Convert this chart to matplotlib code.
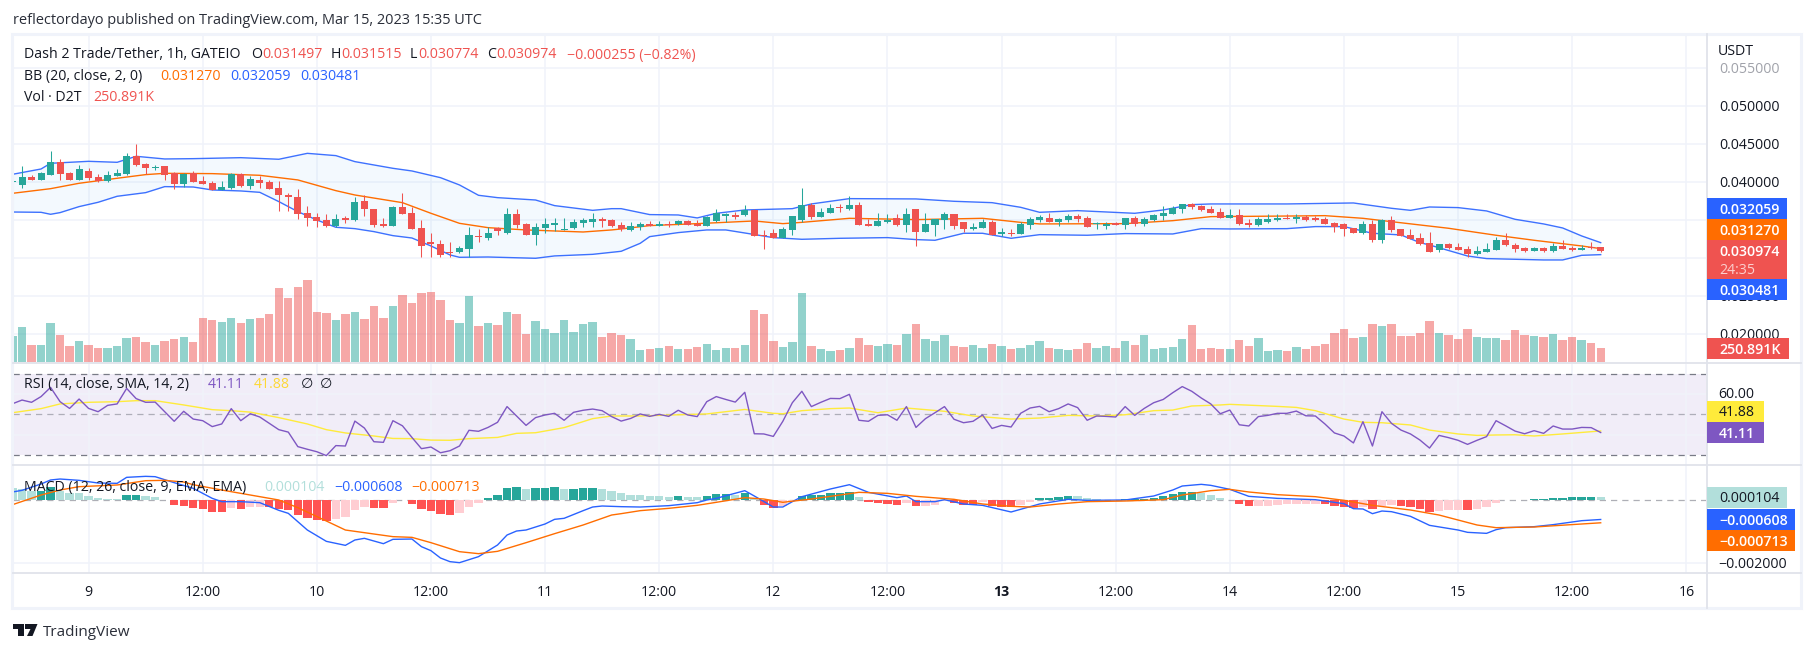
import numpy as np
import matplotlib
matplotlib.use("Agg")
import matplotlib.pyplot as plt
from matplotlib.patches import Rectangle, Polygon

# ---------- data (prices in 1e-3 USDT, hours counted from Mar 9 00:00 UTC) ----------
open_m = [40.07,39.65,40.70,40.31,41.01,42.72,41.23,40.35,41.45,40.70,40.17,40.88,41.10,43.47,42.46,41.93,42.15,41.18,39.78,41.23,40.13,39.91,38.99,39.25,41.10,39.56,40.26,40.04,39.25,38.29,38.07,35.92,35.44,35.04,34.25,35.31,35.04,37.54,36.49,34.47,34.25,36.75,35.97,33.95,32.10,31.84,30.79,30.83,31.23,32.94,32.67,33.99,33.29,35.83,34.47,33.07,34.03,34.43,33.77,33.99,34.69,34.82,35.17,35.04,
          34.39,33.73,34.12,34.52,34.25,34.47,34.47,34.91,34.47,34.25,34.87,35.61,35.70,35.70,36.36,33.07,33.33,32.72,33.73,35.04,37.02,35.44,35.96,36.62,36.49,37.02,34.52,34.25,34.78,35.26,34.39,36.49,33.46,34.39,35.04,35.83,34.78,33.86,33.99,34.78,33.20,33.29,33.20,34.39,35.04,35.31,34.78,35.04,35.57,35.31,34.56,34.25,34.65,34.39,35.31,34.52,35.04,35.57,35.83,36.49,37.15,36.88,36.49,
          36.10,35.31,35.70,34.65,34.39,34.78,35.04,35.31,35.22,35.44,35.31,35.17,34.65,34.52,33.99,33.33,34.52,32.41,35.04,33.86,33.07,32.67,32.02,31.10,31.88,31.49,31.23,30.57,30.83,31.10,32.41,31.75,31.36,31.01,31.36,30.96,31.62,31.36,31.14,31.49,31.497]
high_m = [40.13,42.15,41.01,41.40,44.12,43.07,41.36,42.28,41.93,41.10,41.45,41.75,43.86,45.04,42.54,42.28,42.19,41.31,41.27,41.49,40.83,40.13,40.13,41.18,41.18,40.83,40.88,40.31,40.17,38.55,39.08,36.88,35.92,35.83,35.83,35.57,38.11,38.29,36.49,35.26,36.84,38.64,36.71,35.04,33.29,32.41,32.15,31.62,34.17,33.86,34.08,34.17,36.58,36.49,34.60,34.60,35.26,35.26,35.26,35.13,35.26,35.92,35.39,35.13,
          34.73,34.73,34.73,34.91,34.91,34.87,35.04,35.04,35.04,35.57,36.49,35.92,36.10,37.02,36.45,33.73,33.86,34.12,35.57,39.25,37.24,36.62,37.15,37.15,38.20,37.41,35.17,35.96,35.83,35.83,36.62,36.49,35.96,35.17,36.10,35.83,34.78,34.65,35.17,35.04,33.99,33.86,34.78,35.44,35.70,35.96,35.31,35.83,35.83,35.57,34.78,34.78,34.78,35.31,35.57,35.44,35.83,36.88,36.88,37.15,37.28,37.02,36.88,
          36.62,36.49,36.49,35.17,35.44,35.83,35.83,35.83,35.83,35.70,35.57,35.44,34.78,34.65,33.99,34.91,35.04,35.17,35.57,33.86,33.86,33.33,33.46,31.88,32.02,32.02,31.62,31.62,32.02,32.85,33.33,32.02,31.49,31.49,31.49,32.02,32.41,31.62,31.75,32.15,31.515]
low_m = [40.04,39.30,40.31,40.31,40.96,40.31,40.31,40.31,40.31,40.09,40.09,40.88,41.01,42.19,41.05,41.62,40.31,39.12,39.38,40.04,39.73,38.99,38.99,39.16,39.43,39.12,39.30,39.08,36.27,36.27,35.22,34.25,34.17,34.17,34.17,34.69,34.95,35.57,34.17,34.17,34.25,35.88,33.86,30.22,30.22,30.22,30.22,30.74,30.22,32.19,32.45,33.07,33.24,33.99,33.11,31.80,33.29,33.64,33.73,33.90,34.08,34.08,34.17,34.12,
         33.64,33.64,33.73,34.25,34.25,34.17,34.34,34.34,34.25,34.25,34.78,34.73,35.13,35.57,32.94,31.23,32.67,32.67,33.11,34.78,35.17,35.44,35.96,36.10,36.36,34.39,34.25,34.25,34.69,34.25,33.46,31.62,33.46,32.94,33.86,33.86,33.46,33.73,33.99,33.03,32.94,32.94,33.20,33.86,34.78,34.78,34.25,34.78,34.78,34.12,33.86,33.86,34.39,33.86,34.25,34.25,34.91,35.04,35.83,35.96,36.49,36.23,35.96,
         35.31,35.31,34.39,34.12,34.25,34.65,34.91,35.17,34.65,34.91,34.91,34.52,33.46,32.94,33.33,33.20,32.15,32.02,33.46,32.94,32.54,31.75,30.83,30.83,31.23,31.05,30.18,30.44,30.83,31.10,31.62,30.83,30.83,30.96,30.83,30.83,31.23,30.96,31.10,31.23,30.774]
close_m = [40.11,40.70,40.35,41.23,42.63,41.14,40.35,41.75,40.57,40.17,40.96,41.23,43.47,42.28,41.93,42.02,41.01,39.78,41.10,40.09,39.78,39.03,39.38,41.10,39.56,40.44,39.95,39.16,38.33,38.11,35.88,35.35,34.91,34.25,35.17,35.04,37.41,36.49,34.38,34.25,36.75,35.88,33.90,31.67,31.88,30.44,30.70,31.36,33.07,32.76,33.33,33.64,35.83,34.38,33.11,34.12,34.52,34.65,33.81,34.78,35.04,35.17,34.95,34.25,
           33.81,34.25,34.52,34.25,34.52,34.43,34.91,34.43,34.30,35.48,35.92,35.79,35.48,36.36,32.98,32.98,32.72,33.86,35.57,37.02,35.44,36.10,36.62,36.58,37.02,34.39,34.25,34.91,35.04,34.39,35.83,33.46,34.52,35.17,35.83,34.25,33.86,34.12,34.78,33.07,33.46,33.20,34.52,35.17,35.44,34.78,35.17,35.57,35.17,34.12,34.65,34.52,34.39,35.31,34.52,35.17,35.70,35.96,36.62,37.15,36.75,36.36,35.96,
           35.31,35.70,34.52,34.39,35.17,35.17,35.31,35.22,35.44,35.04,35.04,34.52,34.12,33.86,33.33,34.52,32.41,35.04,33.73,32.94,32.54,31.88,30.83,31.88,31.36,31.10,30.57,30.96,31.23,32.41,31.75,31.23,30.96,31.36,30.96,31.62,31.23,31.10,31.36,31.31,30.974]

volume_k = [466,627,304,304,698,484,287,376,304,251,251,287,430,448,358,304,376,412,448,358,788,752,716,788,698,770,788,860,1325,1146,1343,1469,896,878,752,860,896,770,1003,788,1003,1200,1057,1236,1254,1110,752,698,1182,645,698,663,896,860,501,734,591,519,752,537,681,716,448,519,
            484,412,215,233,251,287,233,233,269,322,215,251,251,304,931,860,376,269,358,1236,287,233,197,215,251,430,304,287,322,304,501,681,412,376,484,287,269,304,251,322,287,233,251,304,376,251,233,215,233,340,251,287,251,376,304,484,233,251,269,412,663,233,251,
            233,233,394,287,430,197,215,197,269,233,287,322,519,591,430,448,681,645,681,466,466,519,734,519,484,412,591,448,430,430,394,573,484,466,448,501,394,448,394,340,250.891]

rsi_values = [55.2,57.0,55.9,58.7,63.2,56.2,52.9,57.5,52.9,51.3,54.4,55.1,62.7,57.7,55.9,56.0,51.3,46.6,51.5,47.7,46.9,44.0,45.3,52.8,46.9,50.3,48.7,45.6,42.5,41.3,34.2,32.9,31.7,29.8,34.7,34.5,46.7,43.3,36.6,36.3,46.9,44.4,38.7,33.2,34.0,31.2,32.2,34.5,42.2,41.7,43.6,46.1,53.8,49.2,44.6,48.4,49.7,50.5,47.1,51.0,52.0,52.6,51.8,48.9,
              46.7,48.0,50.2,49.0,50.0,49.0,52.0,49.7,48.9,56.2,58.7,57.3,56.0,60.8,40.5,40.4,39.2,46.6,55.7,61.3,53.8,55.9,57.8,57.7,59.8,47.1,46.6,49.5,49.8,47.1,53.8,43.6,47.9,50.8,53.8,47.6,45.9,46.6,49.7,43.1,44.6,43.8,50.5,53.1,53.9,51.3,52.8,55.1,53.3,47.1,49.2,49.0,48.7,53.8,49.5,52.9,55.7,57.3,60.6,63.6,61.3,58.0,55.1,
              50.3,52.1,44.9,44.3,48.9,49.5,50.5,50.5,51.6,49.3,49.2,45.3,40.9,39.4,36.0,46.4,34.5,51.3,45.6,42.3,40.4,37.4,33.5,39.7,38.6,37.3,35.3,37.3,39.1,46.9,44.4,41.8,40.5,42.0,40.7,44.3,42.8,42.8,43.6,43.5,41.11]

hist_m = [.392,.370,.286,.307,.423,.296,.222,.220,.138,.074,.053,.042,.169,.175,.138,.106,.021,-.138,-.169,-.233,-.275,-.360,-.362,-.243,-.265,-.212,-.201,-.212,-.265,-.307,-.466,-.550,-.614,-.646,-.593,-.519,-.307,-.222,-.233,-.235,-.085,.002,-.106,-.265,-.328,-.423,-.466,-.402,-.212,-.074,.074,.169,.392,.423,.349,.392,.395,.423,.360,.362,.392,.395,.349,.286,
          .233,.169,.165,.138,.135,.106,.138,.106,.104,.138,.201,.205,.180,.233,.063,-.148,-.243,-.190,-.032,.138,.169,.180,.233,.236,.265,.106,-.053,-.085,-.116,-.148,-.085,-.180,-.169,-.148,-.032,-.085,-.148,-.150,-.042,-.180,-.212,-.214,-.148,-.053,.074,.076,.106,.138,.135,.063,.032,.011,.008,.042,.045,.050,.074,.138,.201,.265,.268,.243,.169,
          .074,.011,-.116,-.180,-.178,-.170,-.148,-.116,-.114,-.112,-.106,-.116,-.180,-.212,-.243,-.212,-.275,-.180,-.148,-.180,-.212,-.275,-.370,-.339,-.307,-.305,-.309,-.275,-.212,-.085,.010,.012,.008,.032,.034,.074,.076,.106,.108,.110,.104]

bb_upper_hours = [-8,-5,-4,-2,0,3,5,8,11,16,20,23,26,28,32,34,37,39,41,43,47,49,53,55,56,59,62,64,66,69,74,76,80,87,91,95,98,100,104,110,113,116,118,126,133,137,139,141,144,147,150,153,155,157,159]
bb_upper_m = [41.05,41.75,42.50,42.63,42.76,42.63,43.42,43.07,43.11,43.24,43.03,43.81,43.51,42.72,41.84,41.49,40.61,39.65,38.29,37.98,37.67,36.93,36.31,36.53,36.53,35.75,35.70,35.31,35.92,36.36,36.53,37.15,37.85,37.81,37.50,37.32,36.71,36.05,36.27,35.92,36.36,37.06,37.15,37.15,37.28,36.58,36.31,36.75,36.67,36.23,35.13,34.52,33.99,32.94,32.059]
bb_lower_hours = [-8,-5,-4,-3,-1,1,3,6,8,11,13,16,18,20,22,24,26,28,30,32,34,36,38,39,42,47,49,53,56,58,59,62,65,67,69,72,75,79,84,87,89,92,94,97,100,105,109,114,117,120,126,129,132,135,138,140,141,145,147,153,155,157,159]
bb_lower_m = [36.09,36.05,35.79,36.01,36.80,37.37,38.16,38.64,39.43,39.38,38.99,38.86,38.68,37.46,36.14,35.04,34.08,33.90,33.51,32.98,32.67,31.62,30.44,30.13,30.17,30.00,30.31,30.52,30.92,31.97,32.85,33.38,33.73,33.73,33.33,32.72,32.50,32.63,32.72,32.46,32.37,33.29,33.29,32.63,33.11,33.03,33.25,33.20,33.90,33.86,33.90,34.17,34.17,33.29,33.07,32.06,31.75,30.30,29.96,29.78,29.78,30.39,30.481]
bb_basis_hours = [-8,-4,-1,3,6,8,13,18,22,26,28,33,36,39,42,46,52,55,56,59,64,70,73,75,80,87,94,98,100,109,114,118,127,130,134,137,143,148,152,157,159]
bb_basis_m = [38.55,39.16,39.87,40.53,41.01,41.18,41.14,40.92,40.31,38.90,38.33,37.32,35.92,34.60,34.03,33.73,33.46,33.73,33.86,34.30,34.56,34.91,34.56,34.73,35.26,35.09,35.26,34.73,34.52,34.56,34.95,35.48,35.57,35.61,35.26,34.82,33.95,33.03,32.37,31.62,31.27]

rsi_ma_hours = [-8,-5,-3,0,3,5,7,10,13,15,17,20,23,25,27,30,32,34,36,38,40,43,45,47,50,53,55,58,62,65,67,69,72,73,75,78,80,83,86,90,93,97,100,103,106,109,112,114,116,119,120,125,127,129,132,134,136,139,141,144,146,148,150,152,155,159]
rsi_ma = [50.8,52.8,55.1,55.9,56.2,56.7,56.7,54.6,52.3,51.8,51.1,48.4,45.3,42.5,40.9,39.4,38.2,38.1,37.4,37.3,38.1,38.7,40.7,41.0,43.5,47.9,49.2,49.2,49.8,50.2,51.3,52.4,50.5,50.3,51.8,52.8,53.1,50.8,53.1,51.5,49.2,47.7,48.2,49.5,49.2,49.8,51.8,52.1,54.1,54.6,54.9,53.9,53.4,51.8,47.7,46.1,45.9,44.8,42.3,40.4,39.7,39.9,40.0,39.4,40.4,41.88]

macd_hours = [-8,-7,-5,-4,-3,-1,1,3,4,6,7,9,11,13,14,16,18,20,21,23,25,27,28,29,31,32,34,35,36,37,38,39,41,43,44,45,46,48,49,50,52,53,54,56,58,61,64,65,66,69,70,72,73,74,75,78,80,82,85,86,87,89,90,92,94,97,100,103,105,109,112,114,115,117,118,120,122,125,129,132,133,134,135,136,137,139,141,144,145,147,148,149,152,154,157,159]
macd_m = [.265,.317,.519,.646,.677,.635,.550,.540,.730,.762,.751,.561,.381,.063,-.042,-.042,-.074,-.317,-.413,-.942,-1.302,-1.429,-1.259,-1.206,-1.376,-1.238,-1.228,-1.471,-1.598,-1.831,-1.947,-1.979,-1.788,-1.418,-1.101,-.974,-.942,-.751,-.603,-.571,-.328,-.212,-.180,-.201,-.212,-.169,-.074,.011,.063,.307,.138,-.212,-.212,-.042,.116,.360,.497,.254,.085,.138,-.042,-.042,.021,-.116,-.159,-.370,-.116,.032,0,.011,.138,.328,.455,.508,.476,.349,.127,.063,.021,-.106,-.265,-.275,-.423,-.339,-.360,-.508,-.794,-.942,-1.016,-1.048,-.931,-.868,-.836,-.772,-.646,-.608]
signal_hours = [-8,-5,-3,-1,3,6,8,10,11,14,16,20,22,25,27,30,32,34,36,39,41,43,46,49,52,55,56,58,61,64,66,69,71,73,76,79,81,84,87,91,94,97,99,102,105,109,113,115,118,120,122,125,129,132,135,139,142,146,148,152,157,159]
signal_m = [-.138,.169,.328,.434,.487,.624,.635,.582,.497,.328,.222,.011,-.233,-.656,-.942,-1.069,-1.153,-1.175,-1.344,-1.630,-1.693,-1.619,-1.344,-1.058,-.783,-.466,-.423,-.328,-.254,-.159,-.063,.085,.042,-.063,.042,.169,.254,.222,.127,.032,-.116,-.190,-.212,-.116,-.042,-.021,.021,.169,.307,.349,.265,.180,.116,0,-.159,-.307,-.466,-.783,-.868,-.847,-.751,-.713]

price_grid = [0.055, 0.050, 0.045, 0.040, 0.035, 0.030, 0.025, 0.020]
price_labels = [0.055, 0.050, 0.045, 0.040, 0.025, 0.020]
time_hours = [0, 12, 24, 36, 48, 60, 72, 84, 96, 108, 120, 132, 144, 156, 168]
time_labels = ["9", "12:00", "10", "12:00", "11", "12:00", "12", "12:00", "13", "12:00", "14", "12:00", "15", "12:00", "16"]

# ---------- styles ----------
UP, DOWN = "#26a69a", "#ef5350"
BLUE, ORANGE = "#2962ff", "#ff6d00"
PURPLE, YELLOW = "#7e57c2", "#ffeb3b"
GRID, SEP, INK = "#f0f3fa", "#e0e3eb", "#131722"
FONT = ["Open Sans", "DejaVu Sans"]
plt.rcParams["font.family"] = FONT
FS = 10.2
W, H = 1814, 652
DY = 1.5

fig = plt.figure(figsize=(W / 100, H / 100), dpi=100, facecolor="white")


def add_axes(top, bottom, left=13, right=1706.5):
    ax = fig.add_axes([left / W, 1 - bottom / H, (right - left) / W, (bottom - top) / H])
    ax.set_xlim((left - 88.6) / 9.51, (right - 88.6) / 9.51)
    ax.patch.set_alpha(0)
    ax.set_xticks([])
    ax.set_yticks([])
    for s in ax.spines.values():
        s.set_visible(False)
    return ax


hours = np.arange(len(open_m)) - 8
o, h, l, c = [np.array(a) * 1e-3 for a in (open_m, high_m, low_m, close_m)]
up = c >= o

# price pane
ax = add_axes(33.5, 362.7)
ax.set_ylim(0.01626, 0.05958)
for t in price_grid:
    ax.axhline(t, color=GRID, lw=1.1, zorder=0)
for t in time_hours:
    ax.axvline(t, color=GRID, lw=1.1, zorder=0)
bu = np.interp(hours, bb_upper_hours, np.array(bb_upper_m) * 1e-3)
bl = np.interp(hours, bb_lower_hours, np.array(bb_lower_m) * 1e-3)
ax.fill_between(hours, bl, bu, color="#2196f3", alpha=0.05, lw=0, zorder=1)
ax.plot(bb_upper_hours, np.array(bb_upper_m) * 1e-3, color=BLUE, lw=1.0, zorder=2, alpha=.9)
ax.plot(bb_lower_hours, np.array(bb_lower_m) * 1e-3, color=BLUE, lw=1.0, zorder=2, alpha=.9)
ax.plot(bb_basis_hours, np.array(bb_basis_m) * 1e-3, color=ORANGE, lw=1.0, zorder=2)
cols = np.where(up, UP, DOWN)
ax.vlines(hours, l, h, colors=cols, lw=0.75, zorder=3)
ax.bar(hours, np.maximum(np.abs(c - o), 0.00012), bottom=np.minimum(o, c), width=0.74, color=cols, lw=0, zorder=3)

# volume overlay
axv = add_axes(33.5, 362.7)
axv.set_ylim(-0.7 * 17.91, (362 - 33.5) * 17.91)
axv.bar(hours, volume_k, width=0.88, color=cols, alpha=0.5, lw=0, zorder=2)

# RSI pane
axr = add_axes(363.5, 465)
axr.set_ylim(25.2, 74.9)
axr.axhspan(30, 70, color=PURPLE, alpha=0.1, lw=0, zorder=0)
for t in (60, 40):
    axr.axhline(t, color=GRID, lw=1.1, zorder=1)
for t in time_hours:
    axr.axvline(t, color=GRID, lw=1.1, zorder=1)
for t, a in ((70, 1), (50, .55), (30, 1)):
    axr.axhline(t, color="#787b86", lw=0.9, ls=(0, (5, 4)), alpha=a, zorder=1)
axr.plot(rsi_ma_hours, rsi_ma, color=YELLOW, lw=1.0, zorder=2)
axr.plot(hours, rsi_values, color=PURPLE, lw=1.0, zorder=3)

# MACD pane
axm = add_axes(465, 573)
axm.set_ylim(-0.002307, 0.001122)
axm.axhline(-0.002, color=GRID, lw=1.1, zorder=0)
for t in time_hours:
    axm.axvline(t, color=GRID, lw=1.1, zorder=0)
hist = np.array(hist_m) * 1e-3
prev = np.r_[np.inf, hist[:-1]]
hcol = [("#26a69a" if v > p else "#b2dfdb") if v >= 0 else ("#ffcdd2" if v > p else "#ff5252") for v, p in zip(hist, prev)]
axm.axhline(0, color="#787b86", lw=0.9, ls=(0, (5, 4)), alpha=.6, zorder=1)
axm.bar(hours, hist, width=0.88, color=hcol, lw=0, zorder=2)
axm.plot(macd_hours, np.array(macd_m) * 1e-3, color=BLUE, lw=1.0, zorder=3)
axm.plot(signal_hours, np.array(signal_m) * 1e-3, color=ORANGE, lw=1.0, zorder=3)

# ---------- overlay in pixels ----------
ov = fig.add_axes([0, 0, 1, 1], zorder=10)
ov.set_xlim(0, W)
ov.set_ylim(H, 0)
ov.axis("off")


def txt(x, y, s, color=INK, fs=FS, **kw):
    kw.setdefault("zorder", 6)
    ov.text(x, y + DY, s, color=color, fontsize=fs, va="center", ha=kw.pop("ha", "left"), **kw)


# frame and separators
ov.add_patch(Rectangle((12, 33.5), 1789, 574.5, fill=False, ec=GRID, lw=2.2, zorder=1))
for y in (362.7, 465, 573):
    ov.plot([13, 1801], [y, y], color=SEP, lw=1.3, zorder=1)
ov.plot([1706.5, 1706.5], [33.5, 608], color=SEP, lw=1.3, zorder=1)

txt(13, 19.5, "reflectordayo published on TradingView.com, Mar 15, 2023 15:35 UTC", color="#2a2e39", fs=10.45)

# legend
txt(23.7, 53.5, "Dash 2 Trade/Tether, 1h, GATEIO")
for x, s in ((251, "O"), (331, "H"), (410, "L"), (487.5, "C")):
    txt(x, 53.5, s)
for x, s in ((262, "0.031497"), (341, "0.031515"), (418, "0.030774"), (496.6, "0.030974"), (566.6, "−0.000255 (−0.82%)")):
    txt(x, 53.5, s, color=DOWN)
txt(23.7, 75, "BB (20, close, 2, 0)")
txt(160, 75, "0.031270", color=ORANGE)
txt(230, 75, "0.032059", color=BLUE)
txt(300, 75, "0.030481", color=BLUE)
txt(23.7, 96, "Vol · D2T")
txt(93, 96, "250.891K", color=DOWN)
txt(23.7, 382.7, "RSI (14, close, SMA, 14, 2)")
txt(208, 382.7, "41.11", color=PURPLE)
txt(254, 382.7, "41.88", color="#fdd835")
txt(300.5, 382.7, "∅")
txt(319.5, 382.7, "∅")
txt(23.7, 486, "MACD (12, 26, close, 9, EMA, EMA)")
txt(264, 486, "0.000104", color="#b2dfdb")
txt(334, 486, "−0.000608", color=BLUE)
txt(411, 486, "−0.000713", color=ORANGE)

# price axis
txt(1718, 50, "USDT")
for t in price_labels:
    y = 144.3 + (0.045 - t) / 0.005 * 38
    txt(1719, y, f"{t:.6f}", color="#787b86" if t == 0.055 else INK, alpha=.7 if t == 0.055 else 1, zorder=2)
txt(1718.5, 393.3, "60.00", zorder=2)
txt(1718.5, 562.7, "−0.002000", zorder=2)


def tag(top, bottom, right, color, s, tc="white", bold=True):
    ov.add_patch(Rectangle((1706.5, top), right - 1706.5, bottom - top, fc=color, ec="none", zorder=4))
    txt(1719, (top + bottom) / 2 if s != "0.030974" else top + 10.5, s, color=tc, fontweight="semibold" if bold else "normal")


tag(198, 219, 1787, BLUE, "0.032059")
tag(219, 240, 1787, ORANGE, "0.031270")
tag(240, 279, 1787, DOWN, "0.030974")
txt(1719, 269, "24:35", color="#fbcfce")
tag(279, 300, 1787, BLUE, "0.030481")
tag(338, 359, 1789, DOWN, "250.891K")
tag(401, 422, 1764, YELLOW, "41.88", tc=INK, bold=False)
tag(422, 442.7, 1764, PURPLE, "41.11")
tag(487, 508, 1786.5, "#b2dfdb", "0.000104", tc=INK, bold=False)
tag(509, 530, 1795, BLUE, "−0.000608")
tag(530, 550.7, 1795, ORANGE, "−0.000713")

# time axis
for t, s in zip(time_hours, time_labels):
    txt(88.6 + 9.51 * t, 590.7, s, ha="center", fontweight="bold" if s == "13" else "normal")

# logo
ov.add_patch(Polygon([(13, 624), (23.5, 624), (23.5, 636), (18, 636), (18, 629), (13, 629)], fc=INK, ec="none"))
ov.add_patch(Polygon([(25, 624), (37.5, 624), (32.5, 636), (27, 636), (30.5, 629), (25, 629)], fc=INK, ec="none"))
txt(43, 630.5, "TradingView", color="#2a2e39", fs=11)

fig.savefig("out.png", dpi=100)
